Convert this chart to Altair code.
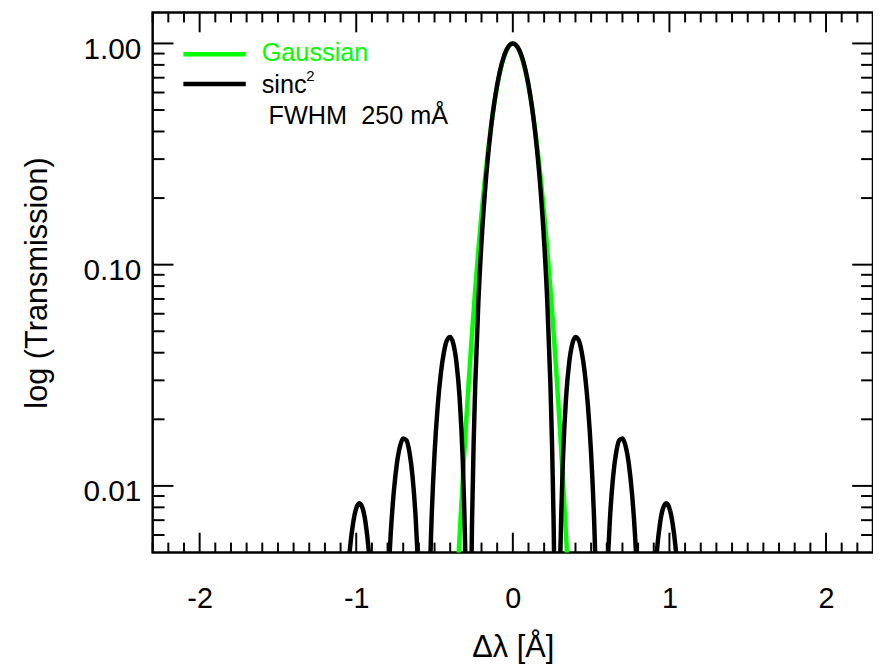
import altair as alt
import pandas as pd

# ---------------- data ----------------
# Gaussian profile (positive half; the curve is symmetric about 0)
gauss_x = [0.0, 0.02, 0.04, 0.06, 0.08, 0.10, 0.12, 0.14, 0.16, 0.18,
           0.20, 0.22, 0.24, 0.26, 0.28, 0.30, 0.32, 0.34, 0.36]
gauss_y = [1.0, 0.9824, 0.9315, 0.8524, 0.7529, 0.6417, 0.5279, 0.4192, 0.3212, 0.2376,
           0.1696, 0.1168, 0.07768, 0.04985, 0.03088, 0.01846, 0.01065, 0.005929, 0.003186]

# sinc^2 profile, one list per lobe (positive half; symmetric about 0)
sinc_x0 = [0.0, 0.02, 0.04, 0.06, 0.08, 0.10, 0.12, 0.14, 0.16, 0.18, 0.20, 0.22, 0.24,
           0.25, 0.26, 0.27, 0.275]
sinc_y0 = [1.0, 0.9837, 0.9359, 0.8601, 0.7623, 0.6493, 0.5300, 0.4116, 0.3015, 0.2053,
           0.1268, 0.0680, 0.0287, 0.01588, 0.00714, 0.00203, 0.00068]
sinc_x1 = [0.29, 0.30, 0.31, 0.32, 0.34, 0.36, 0.38, 0.40, 0.42, 0.44, 0.46, 0.48, 0.50,
           0.52, 0.53, 0.54]
sinc_y1 = [0.000721, 0.003476, 0.00779, 0.01316, 0.02513, 0.03614, 0.04389, 0.04714,
           0.04568, 0.04023, 0.03214, 0.02283, 0.01395, 0.00672, 0.00401, 0.00199]
sinc_x2 = [0.59, 0.60, 0.61, 0.62, 0.64, 0.66, 0.68, 0.70, 0.72, 0.74, 0.76, 0.78, 0.79, 0.80]
sinc_y2 = [0.001833, 0.003343, 0.005126, 0.007066, 0.01095, 0.01417, 0.01609, 0.01640,
           0.01516, 0.01268, 0.00942, 0.00605, 0.00449, 0.0031]
sinc_x3 = [0.88, 0.90, 0.92, 0.94, 0.96, 0.98, 1.00, 1.02, 1.04, 1.06]
sinc_y3 = [0.001375, 0.003124, 0.00507, 0.00679, 0.00795, 0.00834, 0.00792, 0.00679,
           0.00521, 0.00345]

legend_labels = ["Gaussian", "sinc"]
legend_sup = ["2"]
legend_note = ["FWHM\u00a0 250 mÅ"]

x_major = [-2, -1, 0, 1, 2]
x_minor = [round(-2.3 + 0.1 * i, 1) for i in range(47)
           if abs(round(-2.3 + 0.1 * i, 1) - round(-2.3 + 0.1 * i)) > 1e-6]
y_major = [0.01, 0.1, 1.0]
y_minor = [0.006, 0.007, 0.008, 0.009,
           0.02, 0.03, 0.04, 0.05, 0.06, 0.07, 0.08, 0.09,
           0.2, 0.3, 0.4, 0.5, 0.6, 0.7, 0.8, 0.9]

# ---------------- tables ----------------
g_rows = []
for xv, yv in zip(gauss_x, gauss_y):
    g_rows.append({"x": xv, "y": yv})
    if xv > 0:
        g_rows.append({"x": -xv, "y": yv})
gauss_df = pd.DataFrame(g_rows).sort_values("x")

s_rows = []
for lobe, (xs_, ys_) in enumerate([(sinc_x0, sinc_y0), (sinc_x1, sinc_y1),
                                   (sinc_x2, sinc_y2), (sinc_x3, sinc_y3)]):
    for xv, yv in zip(xs_, ys_):
        if lobe == 0:
            s_rows.append({"x": xv, "y": yv, "lobe": "c"})
            if xv > 0:
                s_rows.append({"x": -xv, "y": yv, "lobe": "c"})
        else:
            s_rows.append({"x": xv, "y": yv, "lobe": f"p{lobe}"})
            s_rows.append({"x": -xv, "y": yv, "lobe": f"m{lobe}"})
sinc_df = pd.DataFrame(s_rows).sort_values("x")

W, H = 727, 545
FONT = "Liberation Sans"
xs = alt.Scale(domain=[-2.3, 2.3], nice=False, zero=False)
ys = alt.Scale(type="log", domain=[0.005, 1.38], nice=False)

x_axis = alt.Axis(values=x_major, labelExpr="'' + datum.value", title="Δλ [Å]",
                  ticks=False, tickSize=0, domain=False, grid=False,
                  labelPadding=47, labelBaseline="middle", labelFontSize=29,
                  labelFont=FONT, labelColor="black", titleFont=FONT,
                  titleFontSize=31, titleFontWeight="normal", titleColor="black",
                  titleX=W / 2, titleY=96, titleBaseline="middle", titleAlign="center")
y_axis = alt.Axis(values=y_major, format=".2f", title="log (Transmission)",
                  ticks=False, tickSize=0, domain=False, grid=False,
                  labelPadding=12, labelBaseline="middle", labelOffset=6,
                  labelFontSize=30, labelFont=FONT, labelColor="black",
                  titleFont=FONT, titleFontSize=31, titleFontWeight="normal",
                  titleColor="black", titleX=-116, titleY=H / 2,
                  titleBaseline="middle", titleAlign="center", titleAngle=270)


def X(field):
    return alt.X(field, scale=xs, axis=x_axis)


def Y(field):
    return alt.Y(field, scale=ys, axis=y_axis)


gauss = alt.Chart(gauss_df).mark_line(color="#00ff00", strokeWidth=4.5, clip=True,
                                      interpolate="monotone").encode(
    x=X("x:Q"), y=Y("y:Q"))
sinc = alt.Chart(sinc_df).mark_line(color="black", strokeWidth=4.5, clip=True,
                                    interpolate="monotone").encode(
    x=X("x:Q"), y=Y("y:Q"), detail="lobe:N")


def xticks(vals, length):
    d = pd.DataFrame({"x": vals})
    bot = alt.Chart(d).mark_rule(color="black", strokeWidth=2).encode(
        x=X("x:Q"), y=alt.value(H), y2=alt.value(H - length))
    top = alt.Chart(d).mark_rule(color="black", strokeWidth=2).encode(
        x=X("x:Q"), y=alt.value(0), y2=alt.value(length))
    return [bot, top]


def yticks(vals, length):
    d = pd.DataFrame({"y": vals})
    left = alt.Chart(d).mark_rule(color="black", strokeWidth=2).encode(
        y=Y("y:Q"), x=alt.value(0), x2=alt.value(length))
    right = alt.Chart(d).mark_rule(color="black", strokeWidth=2).encode(
        y=Y("y:Q"), x=alt.value(W), x2=alt.value(W - length))
    return [left, right]


one = pd.DataFrame({"k": [0]})
leg_g = alt.Chart(one).mark_rule(color="#00ff00", strokeWidth=4.5).encode(
    x=alt.value(31), x2=alt.value(94), y=alt.value(42.2))
leg_s = alt.Chart(one).mark_rule(color="black", strokeWidth=4.5).encode(
    x=alt.value(31), x2=alt.value(94), y=alt.value(72.2))
txt_g = alt.Chart(pd.DataFrame({"label": [legend_labels[0]]})).mark_text(
    align="left", baseline="alphabetic", fontSize=25.5, font=FONT, color="#00ff00").encode(
    x=alt.value(110), y=alt.value(49), text="label:N")
txt_s = alt.Chart(pd.DataFrame({"label": [legend_labels[1]]})).mark_text(
    align="left", baseline="alphabetic", fontSize=25.5, font=FONT, color="black").encode(
    x=alt.value(110), y=alt.value(81.2), text="label:N")
txt_sup = alt.Chart(pd.DataFrame({"label": legend_sup})).mark_text(
    align="left", baseline="alphabetic", fontSize=15, font=FONT, color="black").encode(
    x=alt.value(155), y=alt.value(69), text="label:N")
txt_n = alt.Chart(pd.DataFrame({"label": legend_note})).mark_text(
    align="left", baseline="alphabetic", fontSize=25.5, font=FONT, color="black").encode(
    x=alt.value(117), y=alt.value(112.5), text="label:N")

layers = [gauss, sinc] + xticks(x_major, 20) + xticks(x_minor, 10) \
    + yticks(y_major, 21) + yticks(y_minor, 12) \
    + [leg_g, leg_s, txt_g, txt_s, txt_sup, txt_n]

chart = alt.layer(*layers).properties(
    width=W, height=H,
    autosize=alt.AutoSizeParams(type="none"),
    padding={"left": 146, "top": 1.5, "right": 0, "bottom": 110},
    background="white",
).configure(font=FONT).configure_view(stroke="black", strokeWidth=2.5)

chart.save("out.html", embed_options={"renderer": "svg", "actions": False})
